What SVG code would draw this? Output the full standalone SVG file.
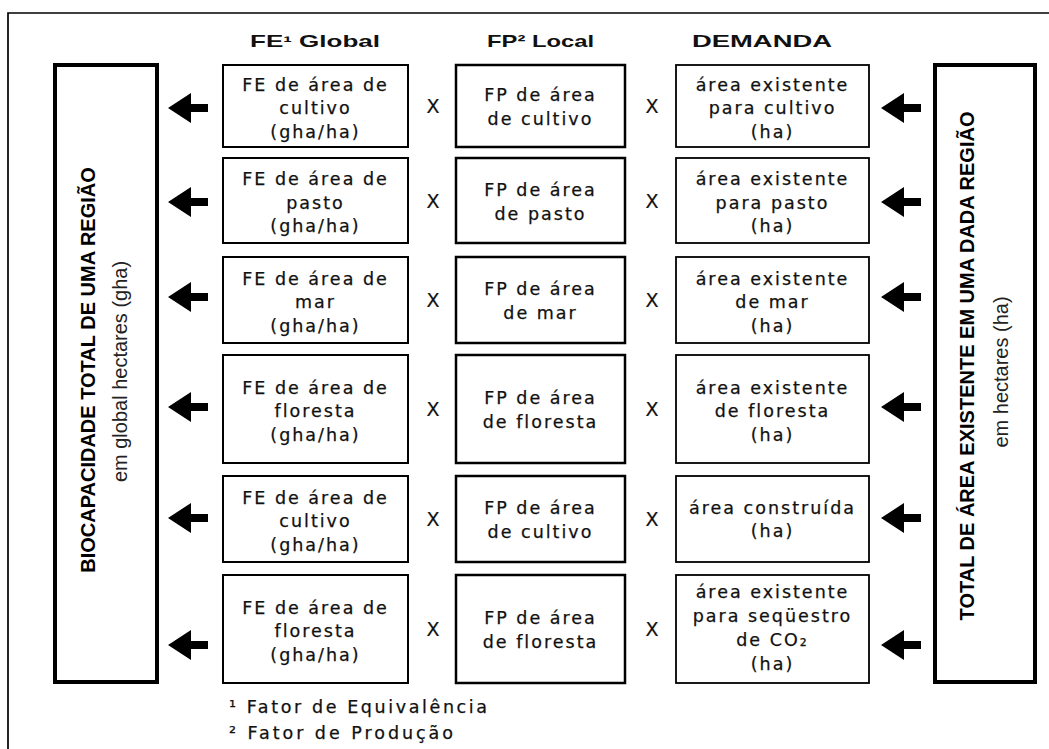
<svg xmlns="http://www.w3.org/2000/svg" width="1049" height="749" viewBox="0 0 1049 749">
<style>
.bg{fill:#fff}
.frame{fill:none;stroke:#000;stroke-width:1.7}
.big{fill:#fff;stroke:#000;stroke-width:4}
.fe{fill:#fff;stroke:#000;stroke-width:2}
.fp{fill:#fff;stroke:#000;stroke-width:2.5}
.dm{fill:#fff;stroke:#000;stroke-width:1.8}
.t{font-family:"DejaVu Sans",sans-serif;font-size:17.5px;letter-spacing:2px;fill:#111;stroke:#111;stroke-width:0.25;text-anchor:middle}
.x{font-family:"DejaVu Sans",sans-serif;font-size:19px;fill:#111;stroke:#111;stroke-width:0.2;text-anchor:middle}
.h{font-family:"Liberation Sans",Arial,sans-serif;font-size:16.5px;font-weight:bold;fill:#111}
.vb{font-family:"Liberation Sans",Arial,sans-serif;font-size:20px;font-weight:bold;fill:#000;text-anchor:middle}
.vr{font-family:"Liberation Sans",Arial,sans-serif;font-size:20px;fill:#222;text-anchor:middle}
.fn{font-family:"DejaVu Sans",sans-serif;font-size:17.5px;fill:#111;stroke:#111;stroke-width:0.25}
.arr{fill:#000}
</style>
<defs>
<polygon id="al" points="0,0 23,-15 23,-4 40,-4 40,4 23,4 23,15"/>
</defs>
<rect class="bg" x="0" y="0" width="1049" height="749"/>
<path class="frame" d="M8,749 V13 H1049"/>

<g id="headers">
<text class="h" x="250" y="47" textLength="130" lengthAdjust="spacingAndGlyphs">FE¹ Global</text>
<text class="h" x="487" y="47" textLength="107" lengthAdjust="spacingAndGlyphs">FP² Local</text>
<text class="h" x="692" y="47" textLength="140" lengthAdjust="spacingAndGlyphs">DEMANDA</text>
</g>

<g id="biocapacidade">
<rect class="big" x="55" y="65" width="102" height="617"/>
<text class="vb" transform="translate(95,370) rotate(-90)">BIOCAPACIDADE TOTAL DE UMA  REGIÃO</text>
<text class="vr" transform="translate(127,371.5) rotate(-90)">em global hectares (gha)</text>
</g>

<g id="total-area">
<rect class="big" x="935" y="65" width="100" height="617"/>
<text class="vb" transform="translate(974,366) rotate(-90)">TOTAL DE ÁREA EXISTENTE EM UMA DADA REGIÃO</text>
<text class="vr" transform="translate(1008,372) rotate(-90)">em hectares (ha)</text>
</g>

<g id="row1">
<rect class="fe" x="223" y="65" width="185" height="82"/>
<text class="t" x="315.5" y="90.5">FE de área de</text>
<text class="t" x="315.5" y="114">cultivo</text>
<text class="t" x="315.5" y="137.5">(gha/ha)</text>
<text class="x" x="433" y="113">X</text>
<rect class="fp" x="456" y="65" width="169" height="82"/>
<text class="t" x="540.5" y="101">FP de área</text>
<text class="t" x="540.5" y="125">de cultivo</text>
<text class="x" x="652" y="113">X</text>
<rect class="dm" x="676" y="65" width="193" height="82"/>
<text class="t" x="772.5" y="90.5">área existente</text>
<text class="t" x="772.5" y="114">para cultivo</text>
<text class="t" x="772.5" y="137.5">(ha)</text>
</g>

<g id="row2">
<rect class="fe" x="223" y="158" width="185" height="85"/>
<text class="t" x="315.5" y="185">FE de área de</text>
<text class="t" x="315.5" y="208.5">pasto</text>
<text class="t" x="315.5" y="232">(gha/ha)</text>
<text class="x" x="433" y="207.5">X</text>
<rect class="fp" x="456" y="158" width="169" height="85"/>
<text class="t" x="540.5" y="195.5">FP de área</text>
<text class="t" x="540.5" y="219.5">de pasto</text>
<text class="x" x="652" y="207.5">X</text>
<rect class="dm" x="676" y="158" width="193" height="85"/>
<text class="t" x="772.5" y="185">área existente</text>
<text class="t" x="772.5" y="208.5">para pasto</text>
<text class="t" x="772.5" y="232">(ha)</text>
</g>

<g id="row3">
<rect class="fe" x="223" y="257" width="185" height="86"/>
<text class="t" x="315.5" y="284.5">FE de área de</text>
<text class="t" x="315.5" y="308">mar</text>
<text class="t" x="315.5" y="331.5">(gha/ha)</text>
<text class="x" x="433" y="307">X</text>
<rect class="fp" x="456" y="257" width="169" height="86"/>
<text class="t" x="540.5" y="295">FP de área</text>
<text class="t" x="540.5" y="319">de mar</text>
<text class="x" x="652" y="307">X</text>
<rect class="dm" x="676" y="257" width="193" height="86"/>
<text class="t" x="772.5" y="284.5">área existente</text>
<text class="t" x="772.5" y="308">de mar</text>
<text class="t" x="772.5" y="331.5">(ha)</text>
</g>

<g id="row4">
<rect class="fe" x="223" y="355" width="185" height="108"/>
<text class="t" x="315.5" y="393.5">FE de área de</text>
<text class="t" x="315.5" y="417">floresta</text>
<text class="t" x="315.5" y="440.5">(gha/ha)</text>
<text class="x" x="433" y="416">X</text>
<rect class="fp" x="456" y="355" width="169" height="108"/>
<text class="t" x="540.5" y="404">FP de área</text>
<text class="t" x="540.5" y="428">de floresta</text>
<text class="x" x="652" y="416">X</text>
<rect class="dm" x="676" y="355" width="193" height="108"/>
<text class="t" x="772.5" y="393.5">área existente</text>
<text class="t" x="772.5" y="417">de floresta</text>
<text class="t" x="772.5" y="440.5">(ha)</text>
</g>

<g id="row5">
<rect class="fe" x="223" y="476" width="185" height="86"/>
<text class="t" x="315.5" y="503.5">FE de área de</text>
<text class="t" x="315.5" y="527">cultivo</text>
<text class="t" x="315.5" y="550.5">(gha/ha)</text>
<text class="x" x="433" y="526">X</text>
<rect class="fp" x="456" y="476" width="169" height="86"/>
<text class="t" x="540.5" y="514">FP de área</text>
<text class="t" x="540.5" y="538">de cultivo</text>
<text class="x" x="652" y="526">X</text>
<rect class="dm" x="676" y="476" width="193" height="86"/>
<text class="t" x="772.5" y="514">área construída</text>
<text class="t" x="772.5" y="537">(ha)</text>
</g>

<g id="row6">
<rect class="fe" x="223" y="575" width="185" height="108"/>
<text class="t" x="315.5" y="613.5">FE de área de</text>
<text class="t" x="315.5" y="637">floresta</text>
<text class="t" x="315.5" y="660.5">(gha/ha)</text>
<text class="x" x="433" y="636">X</text>
<rect class="fp" x="456" y="575" width="169" height="108"/>
<text class="t" x="540.5" y="624">FP de área</text>
<text class="t" x="540.5" y="648">de floresta</text>
<text class="x" x="652" y="636">X</text>
<rect class="dm" x="676" y="575" width="193" height="108"/>
<text class="t" x="772.5" y="598">área existente</text>
<text class="t" x="772.5" y="622">para seqüestro</text>
<text class="t" x="772.5" y="646">de CO₂</text>
<text class="t" x="772.5" y="670">(ha)</text>
</g>

<g id="connectors">
<use href="#al" class="arr" x="168" y="108"/>
<use href="#al" class="arr" x="168" y="202"/>
<use href="#al" class="arr" x="168" y="297"/>
<use href="#al" class="arr" x="168" y="407"/>
<use href="#al" class="arr" x="168" y="518"/>
<use href="#al" class="arr" x="168" y="645"/>
<use href="#al" class="arr" x="881" y="108"/>
<use href="#al" class="arr" x="881" y="202"/>
<use href="#al" class="arr" x="881" y="297"/>
<use href="#al" class="arr" x="881" y="407"/>
<use href="#al" class="arr" x="881" y="518"/>
<use href="#al" class="arr" x="881" y="645"/>
</g>

<g id="footnotes">
<text class="fn" x="229" y="713" textLength="258" lengthAdjust="spacing">¹ Fator de Equivalência</text>
<text class="fn" x="229" y="739" textLength="224" lengthAdjust="spacing">² Fator de Produção</text>
</g>
</svg>
